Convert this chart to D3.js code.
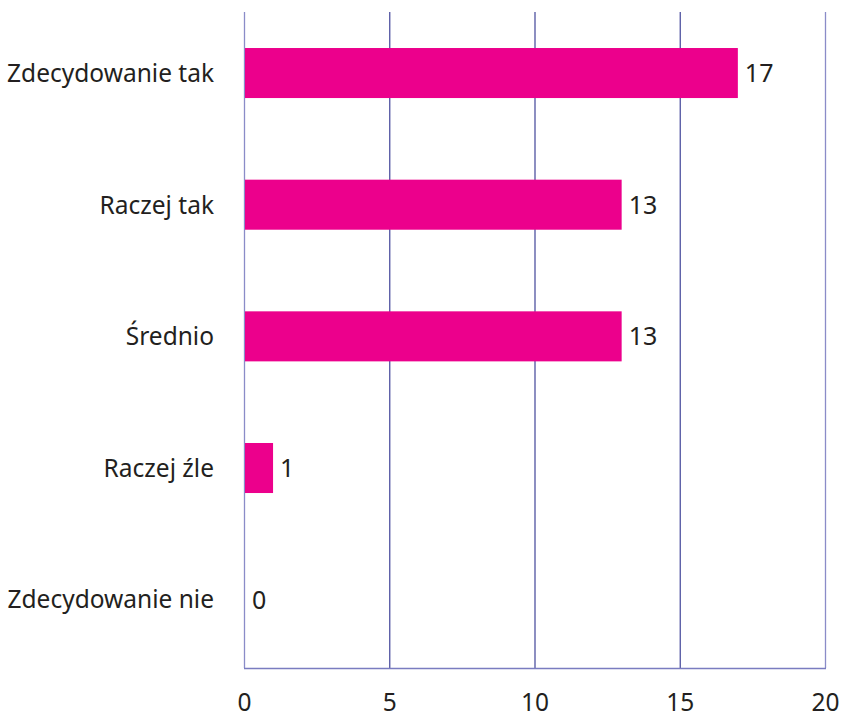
<!DOCTYPE html>
<html><head><meta charset="utf-8">
<script src="https://cdn.jsdelivr.net/npm/d3@7"></script>
<style>body{margin:0;background:#fff}svg{display:block}</style>
</head><body>
<svg id="c" width="841" height="715"></svg>
<script>
const categories = ["Zdecydowanie tak","Raczej tak","Średnio","Raczej źle","Zdecydowanie nie"];
const values = [17,13,13,1,0];
const tickValues = [0,5,10,15,20];

const svg = d3.select("#c");
const pLeft = 244, pRight = 825, pTop = 12, pBottom = 668;
const font = "'Noto Sans', sans-serif";
const x = d3.scaleLinear().domain([0,20]).range([pLeft,pRight]);
const y = d3.scaleBand().domain(categories).range([7.2,665.5]).paddingInner(0.62).paddingOuter(0.31);

// gridlines
svg.append("g").selectAll("line").data(tickValues).join("line")
  .attr("x1",d=>x(d)+0.5).attr("x2",d=>x(d)+0.5)
  .attr("y1",pTop).attr("y2",pBottom)
  .attr("stroke",d=> (d===0||d===20) ? "#8a8cc8" : "#4f52a0").attr("stroke-width",1.3);
// bottom axis line
svg.append("line").attr("x1",pLeft).attr("x2",pRight+1).attr("y1",pBottom+0.5).attr("y2",pBottom+0.5)
  .attr("stroke","#7a7cc0").attr("stroke-width",1.3);

// bars
svg.append("g").selectAll("rect").data(values).join("rect")
  .attr("x",x(0)+1).attr("y",(d,i)=>y(categories[i]))
  .attr("width",d=>Math.max(0,x(d)-x(0)-1)).attr("height",y.bandwidth())
  .attr("fill","#ec008c");

// value labels
svg.append("g").selectAll("text").data(values).join("text")
  .attr("x",d=>x(d)+ (d===0?8:7)).attr("y",(d,i)=>y(categories[i])+y.bandwidth()/2)
  .attr("dy","0.36em").attr("font-family",font).attr("font-size",25).attr("fill","#231f20")
  .text(d=>d);

// category labels
svg.append("g").selectAll("text").data(categories).join("text")
  .attr("x",214).attr("y",d=>y(d)+y.bandwidth()/2).attr("dy","0.36em")
  .attr("text-anchor","end").attr("font-family",font).attr("font-size",24.5).attr("fill","#231f20")
  .text(d=>d);

// tick labels
const ax = d3.axisBottom(x).tickValues(tickValues).tickSize(0).tickPadding(0);
const g = svg.append("g").attr("transform",`translate(0,${pBottom})`).call(ax);
g.select(".domain").remove();
g.selectAll("text").attr("y",43).attr("dy",0).attr("font-family",font).attr("font-size",24.5).attr("fill","#231f20");
</script>
</body></html>
